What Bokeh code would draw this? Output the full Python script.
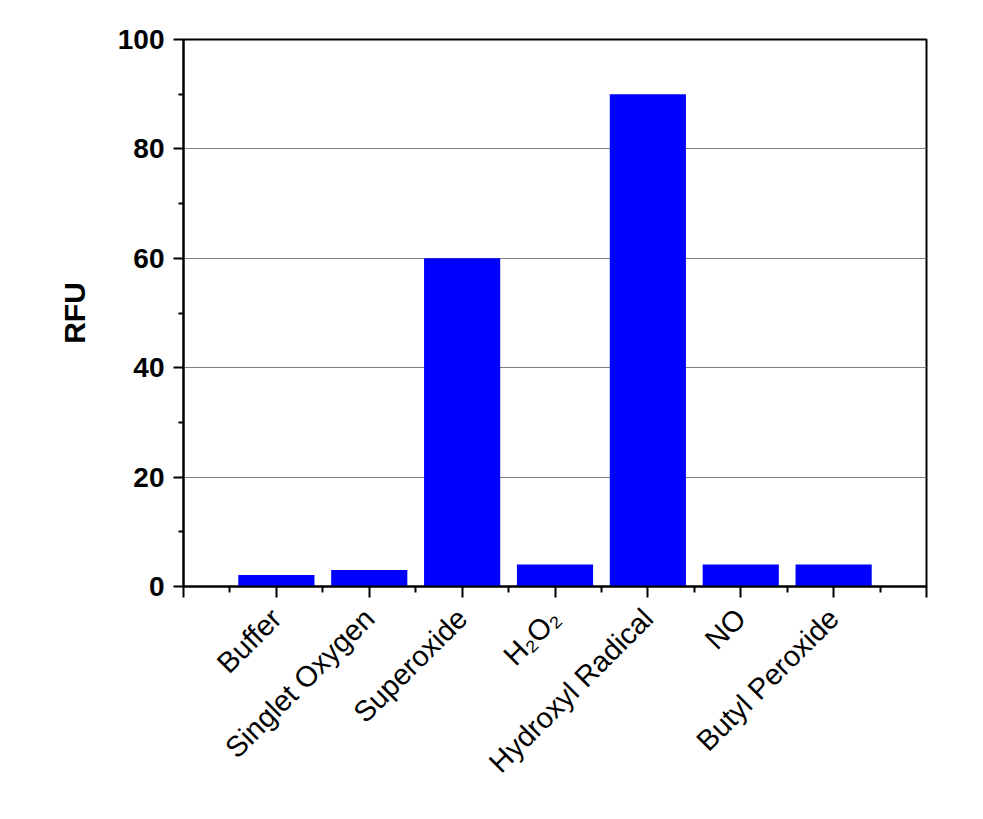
import math
from bokeh.plotting import figure
from bokeh.models import FixedTicker, Range1d, ColumnDataSource
from bokeh.embed import file_html
from bokeh.resources import INLINE

categories = ["Buffer", "Singlet Oxygen", "Superoxide", "H\u2082O\u2082",
              "Hydroxyl Radical", "NO", "Butyl Peroxide"]
values = [2.1, 3.0, 60.0, 4.0, 90.0, 4.0, 4.0]
positions = [1, 2, 3, 4, 5, 6, 7]
y_ticks = [0, 20, 40, 60, 80, 100]
y_minor = [10, 30, 50, 70, 90]

p = figure(width=975, height=806, output_backend="svg", toolbar_location=None,
           x_range=Range1d(0, 8), y_range=Range1d(0, 100),
           min_border_left=183, min_border_right=49, min_border_top=39,
           min_border_bottom=220)
p.background_fill_color = "white"
p.border_fill_color = "white"
p.outline_line_color = "black"
p.outline_line_width = 2
p.outline_line_alpha = 1

src = ColumnDataSource(dict(x=positions, top=values))
p.vbar(x="x", top="top", bottom=0, width=0.82, source=src,
       fill_color="#0000FF", line_color=None)

# x axis
p.xaxis.ticker = FixedTicker(ticks=list(range(9)),
                             minor_ticks=[i + 0.5 for i in range(8)])
overrides = {0: "", 8: ""}
for pos, c in zip(positions, categories):
    overrides[pos] = c
p.xaxis.major_label_overrides = overrides
p.xaxis.major_label_orientation = math.pi / 4
p.xaxis.major_label_text_font = "Liberation Sans"
p.xaxis.major_label_text_font_size = "29px"
p.xaxis.major_label_text_color = "black"
p.xaxis.major_label_standoff = 16
p.xaxis.axis_line_width = 2
p.xaxis.axis_line_color = "black"
p.xaxis.major_tick_out = 11
p.xaxis.major_tick_in = 0
p.xaxis.minor_tick_out = 6
p.xaxis.minor_tick_in = 0
p.xaxis.major_tick_line_width = 2
p.xaxis.minor_tick_line_width = 2

# y axis
p.yaxis.ticker = FixedTicker(ticks=y_ticks, minor_ticks=y_minor)
p.yaxis.axis_label = "RFU"
p.yaxis.axis_label_text_font = "Liberation Sans"
p.yaxis.axis_label_text_font_style = "bold"
p.yaxis.axis_label_text_font_size = "30px"
p.yaxis.axis_label_text_color = "black"
p.yaxis.axis_label_standoff = 24
p.yaxis.major_label_text_font = "Liberation Sans"
p.yaxis.major_label_text_font_style = "bold"
p.yaxis.major_label_text_font_size = "28px"
p.yaxis.major_label_text_color = "black"
p.yaxis.major_label_standoff = 9
p.yaxis.axis_line_width = 2
p.yaxis.axis_line_color = "black"
p.yaxis.major_tick_out = 10
p.yaxis.major_tick_in = 0
p.yaxis.minor_tick_out = 5
p.yaxis.minor_tick_in = 0
p.yaxis.major_tick_line_width = 2
p.yaxis.minor_tick_line_width = 2

p.xgrid.grid_line_color = None
p.ygrid.grid_line_color = "#808080"
p.ygrid.grid_line_width = 1

open("out.html", "w").write(file_html(p, INLINE))
